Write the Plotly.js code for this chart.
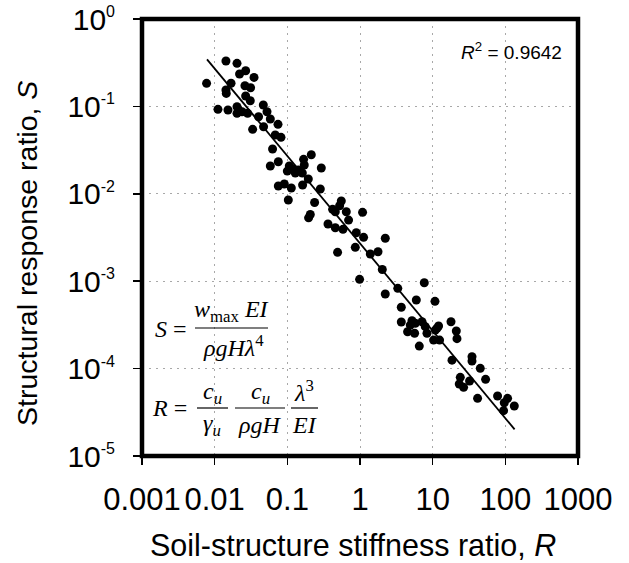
<!DOCTYPE html>
<html>
<head>
<meta charset="utf-8">
<script src="https://cdn.plot.ly/plotly-3.0.1.min.js"></script>
<style>
html,body{margin:0;padding:0;background:#fff;}
#chart{width:629px;height:563px;}
</style>
</head>
<body>
<div id="chart"></div>
<script>
// ---- data ----
var stiffnessR = [
  0.0143, 0.0203, 0.0220, 0.0267, 0.0348, 0.00774, 0.0168, 0.0261, 0.0312, 0.0143,
  0.01445, 0.0267, 0.0309, 0.0467, 0.0111, 0.01525, 0.0203, 0.0213, 0.0203, 0.0238,
  0.0284, 0.0402, 0.0525, 0.0583, 0.0333, 0.0471, 0.0744, 0.0682, 0.0818, 0.0626,
  0.2137, 0.1674, 0.0751, 0.0583, 0.1064, 0.1208, 0.0999, 0.1415, 0.1607, 0.1287,
  0.1711, 0.2933, 0.1943, 0.1622, 0.0751, 0.0908, 0.1134, 0.1031, 0.2372, 0.207,
  0.1962, 0.2842, 0.5527, 0.524, 0.4196, 0.457, 0.6478, 1.085, 0.6966, 0.3626,
  0.457, 0.583, 0.889, 1.121, 2.228, 0.861, 0.4915, 1.386, 1.769, 2.027,
  0.987, 3.311, 2.228, 7.666, 5.953, 10.76, 3.70, 3.70, 5.193, 5.767,
  4.92, 7.13, 7.913, 8.35, 4.518, 5.64, 12.06, 11.47, 10.87, 17.87,
  21.14, 21.61, 10.3, 12.45, 6.545, 18.45, 34.76, 34.76, 45.2, 23.99,
  23.24, 26.65, 32.22, 53.5, 41.5, 78.2, 107.4, 96.7, 132.8, 94.6
];
var responseS = [
  0.3307, 0.311, 0.235, 0.256, 0.215, 0.1837, 0.184, 0.1725, 0.1637, 0.154,
  0.141, 0.1315, 0.1162, 0.1038, 0.0926, 0.0910, 0.0992, 0.0910, 0.0834, 0.0870,
  0.0834, 0.0762, 0.0870, 0.0718, 0.0547, 0.0586, 0.0624, 0.0471, 0.0443, 0.0326,
  0.0280, 0.0248, 0.0233, 0.0208, 0.0208, 0.0192, 0.0182, 0.0187, 0.0173, 0.0173,
  0.02136, 0.01973, 0.01477, 0.01261, 0.01228, 0.01295, 0.01165, 0.00849, 0.00795, 0.00580,
  0.00531, 0.01135, 0.00827, 0.00731, 0.00665, 0.00624, 0.00624, 0.00614, 0.00501, 0.00451,
  0.00409, 0.00392, 0.00359, 0.00318, 0.00310, 0.00244, 0.00214, 0.00205, 0.002176, 0.00136,
  0.00105, 0.000829, 0.000714, 0.000961, 0.000609, 0.000589, 0.000503, 0.000341, 0.000353, 0.00033,
  0.000315, 0.000344, 0.000302, 0.000254, 0.000264, 0.000254, 0.000307, 0.000289, 0.000276, 0.000344,
  0.000269, 0.00022, 0.000212, 0.000212, 0.000181, 0.000125, 0.000137, 0.000122, 0.0001008, 0.0000795,
  0.0000666, 0.0000611, 0.0000721, 0.0000754, 0.0000457, 0.0000486, 0.0000457, 0.0000407, 0.0000373, 0.000033
];
// power-law fit line end points
var fitR = [0.00784, 134.1];
var fitS = [0.346, 0.0000202];
var rSquaredText = "0.9642";

var xTickVals = [0.001, 0.01, 0.1, 1, 10, 100, 1000];
var xTickText = ["0.001", "0.01", "0.1", "1", "10", "100", "1000"];
var yTickVals = [1, 0.1, 0.01, 0.001, 0.0001, 0.00001];
var yExponents = ["0", "-1", "-2", "-3", "-4", "-5"];

var xTitle = "Soil-structure stiffness ratio, <i>R</i>";
var yTitle = "Structural response ratio, <i>S</i>";

var yTickText = yExponents.map(function(e){
  return "10<sup><span style='font-size:16px'>" + e + "</span></sup>";
});

// ---- layout helpers (pixel -> paper) ----
var W = 629, H = 563;
var M = {l: 142, r: 51, t: 19, b: 107};
var PW = W - M.l - M.r, PH = H - M.t - M.b;
function px(x){ return (x - M.l) / PW; }
function py(y){ return (H - M.b - y) / PH; }

var sans = "Liberation Sans, Arial, sans-serif";
var serif = "Liberation Serif, Times New Roman, serif";

var traces = [
  {
    x: stiffnessR, y: responseS, type: "scatter", mode: "markers",
    marker: {color: "#000", size: 9, line: {width: 0}},
    hoverinfo: "x+y", showlegend: false
  },
  {
    x: fitR, y: fitS, type: "scatter", mode: "lines",
    line: {color: "#000", width: 1.8},
    hoverinfo: "skip", showlegend: false
  }
];

function eq(text, x, y, anchor, size){
  return {text: text, x: px(x), y: py(y), xref: "paper", yref: "paper",
    xanchor: anchor || "center", yanchor: "middle", showarrow: false,
    font: {family: serif, size: size || 24, color: "#000"}};
}
function bar(x0, x1, y){
  return {type: "line", xref: "paper", yref: "paper", x0: px(x0), x1: px(x1),
    y0: py(y), y1: py(y), line: {color: "#000", width: 1.2}};
}

var annotations = [
  {text: "<i>R</i><sup>2</sup> = " + rSquaredText, x: px(459), y: py(51), xref: "paper", yref: "paper",
   xanchor: "left", yanchor: "middle", showarrow: false, font: {family: sans, size: 19, color: "#000"}},
  {text: xTitle, x: px(353), y: py(545), xref: "paper", yref: "paper", xanchor: "center", yanchor: "middle",
   showarrow: false, font: {family: sans, size: 30.5, color: "#000"}},
  {text: yTitle, x: px(27), y: py(254), xref: "paper", yref: "paper", xanchor: "center", yanchor: "middle",
   textangle: -90, showarrow: false, font: {family: sans, size: 28.5, color: "#000"}},
  // S equation
  eq("<i>S</i> =", 153, 329, "left"),
  eq("<i>w</i><sub>max</sub> <i>EI</i>", 231, 311),
  eq("<i>ρgHλ</i><sup>4</sup>", 233, 346),
  // R equation
  eq("<i>R</i> =", 150, 408, "left"),
  eq("<i>c<sub>u</sub></i>", 212, 393),
  eq("<i>γ<sub>u</sub></i>", 212, 425),
  eq("<i>c<sub>u</sub></i>", 260, 393),
  eq("<i>ρgH</i>", 260, 425),
  eq("<i>λ</i><sup>3</sup>", 304, 391),
  eq("<i>EI</i>", 304, 425)
];

var shapes = [
  bar(195, 268, 328),
  bar(197, 228, 408),
  bar(235, 285, 408),
  bar(291, 318, 408),
  {type: "rect", xref: "paper", yref: "paper", x0: 0, x1: 1, y0: 0, y1: 1,
   line: {color: "#000", width: 4.5}, layer: "above"}
];

var axisCommon = {
  type: "log", showline: false, zeroline: false,
  showgrid: true, gridcolor: "#a8a8a8", gridwidth: 1, griddash: "2px,5px",
  ticks: "outside", ticklen: 8, tickwidth: 1.5, tickcolor: "#000",
  tickmode: "array"
};

var layout = {
  width: W, height: H,
  margin: M,
  paper_bgcolor: "#fff", plot_bgcolor: "#fff",
  showlegend: false,
  xaxis: Object.assign({}, axisCommon, {
    range: [-3, 3], tickvals: xTickVals, ticktext: xTickText, ticklabelstandoff: 8,
    tickfont: {family: sans, size: 31, color: "#000"}
  }),
  yaxis: Object.assign({}, axisCommon, {
    range: [-5, 0.0005], tickvals: yTickVals, ticktext: yTickText, ticklabelstandoff: 12,
    tickfont: {family: sans, size: 30, color: "#000"}
  }),
  annotations: annotations,
  shapes: shapes
};

Plotly.newPlot("chart", traces, layout, {displayModeBar: false, staticPlot: true});
</script>
</body>
</html>
